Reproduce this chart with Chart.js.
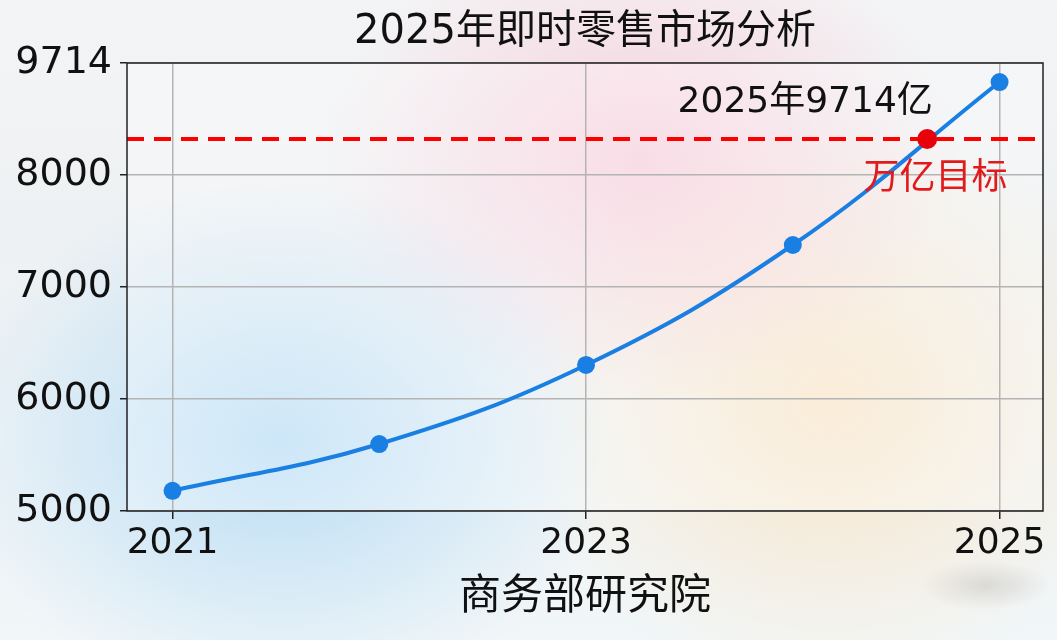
<!DOCTYPE html>
<html>
<head>
<meta charset="utf-8">
<script src="https://cdn.jsdelivr.net/npm/chart.js@4.4.1/dist/chart.umd.min.js"></script>
<style>
  html, body { margin: 0; padding: 0; }
  body {
    width: 1057px; height: 640px; overflow: hidden;
    background:
      radial-gradient(ellipse 340px 260px at 280px 440px, rgba(170,215,245,0.8), rgba(170,215,245,0) 100%),
      radial-gradient(ellipse 320px 240px at 640px 160px, rgba(250,195,212,0.75), rgba(250,195,212,0) 100%),
      radial-gradient(ellipse 320px 290px at 830px 400px, rgba(252,225,185,0.75), rgba(252,225,185,0) 100%),
      radial-gradient(ellipse 65px 25px at 985px 585px, rgba(150,150,150,0.3), rgba(150,150,150,0) 100%),
      linear-gradient(180deg, #f3f4f5 0%, #eef1f3 35%, #f1f6f8 100%);
  }
  #wrap { position: absolute; left: 0; top: 0; width: 1057px; height: 640px; }
</style>
</head>
<body>
<div id="wrap"><canvas id="c" width="1057" height="640"></canvas></div>
<script>
const years = [2021, 2022, 2023, 2024, 2025];
const marketSize = [5180, 5598, 6304, 7375, 8830];
const xTicks = [2021, 2023, 2025];
const yTicks = [5000, 6000, 7000, 8000, 9000];
const yTickLabels = ['5000', '6000', '7000', '8000', '9714'];
const targetLine = 8321;
const targetPoint = { x: 2024.65, y: 8321 };
const chartTitle = '2025年即时零售市场分析';
const notes = [
  { text: '2025年9714亿', x: 2024.06, y: 8643, color: '#111' },
  { text: '万亿目标', x: 2024.69, y: 7955, color: '#e31a1c' }
];

const FONT = "'DejaVu Sans', 'Noto Sans CJK SC', sans-serif";

const areaFill = {
  id: 'areaFill',
  beforeDraw(chart) {
    const { ctx, chartArea: a } = chart;
    ctx.save();
    ctx.fillStyle = 'rgba(255,255,255,0.3)';
    ctx.fillRect(a.left, a.top, a.right - a.left, a.bottom - a.top);
    ctx.restore();
  }
};

const extras = {
  id: 'extras',
  afterDatasetsDraw(chart) {
    const { ctx, chartArea: a, scales: { x, y } } = chart;
    ctx.save();
    // border box
    ctx.strokeStyle = '#222';
    ctx.lineWidth = 1.5;
    ctx.strokeRect(a.left, a.top, a.right - a.left, a.bottom - a.top);
    // title, centred over the plot area
    ctx.textAlign = 'center';
    ctx.textBaseline = 'middle';
    ctx.fillStyle = '#111';
    ctx.font = '40px ' + FONT;
    ctx.fillText(chartTitle, (a.left + a.right) / 2, 33);
    // notes
    ctx.font = '36px ' + FONT;
    notes.forEach(n => {
      ctx.fillStyle = n.color;
      ctx.fillText(n.text, x.getPixelForValue(n.x), y.getPixelForValue(n.y));
    });
    ctx.restore();
  }
};

new Chart(document.getElementById('c'), {
  type: 'line',
  data: {
    datasets: [
      {
        label: 'target',
        data: [{ x: 2020.78, y: targetLine }, { x: 2025.21, y: targetLine }],
        borderColor: '#f00',
        borderWidth: 4,
        borderDash: [17, 10],
        pointRadius: 0,
        tension: 0,
        order: 3
      },
      {
        label: '即时零售市场规模',
        data: years.map((yr, i) => ({ x: yr, y: marketSize[i] })),
        borderColor: '#1a7fe3',
        backgroundColor: '#1a7fe3',
        borderWidth: 4,
        pointRadius: 9,
        pointBorderWidth: 0,
        tension: 0.4,
        order: 2
      },
      {
        label: 'targetPoint',
        data: [targetPoint],
        borderColor: '#e8000b',
        backgroundColor: '#e8000b',
        pointRadius: 10,
        pointBorderWidth: 0,
        showLine: false,
        order: 1
      }
    ]
  },
  options: {
    responsive: false,
    animation: false,
    devicePixelRatio: 1,
    layout: { padding: { left: 0, right: 14, top: 63, bottom: 0 } },
    plugins: {
      legend: { display: false },
      tooltip: { enabled: false },
      title: { display: false }
    },
    scales: {
      x: {
        type: 'linear',
        min: 2020.78,
        max: 2025.21,
        afterBuildTicks: s => { s.ticks = xTicks.map(v => ({ value: v })); },
        afterFit: s => { s.height = 129; },
        ticks: {
          color: '#111',
          font: { family: FONT, size: 36 },
          padding: 3,
          maxRotation: 0,
          callback: v => String(v)
        },
        grid: { color: '#b4b4b4', lineWidth: 1.5, tickLength: 8, tickColor: '#222' },
        border: { display: false },
        title: {
          display: true,
          text: '商务部研究院',
          color: '#111',
          font: { family: FONT, size: 42, lineHeight: 1.2 },
          padding: { top: 0, bottom: 17 }
        }
      },
      y: {
        min: 5000,
        max: 9000,
        afterBuildTicks: s => { s.ticks = yTicks.map(v => ({ value: v })); },
        afterFit: s => { s.width = 127; },
        ticks: {
          color: '#111',
          font: { family: FONT, size: 38 },
          padding: 8,
          callback: (v) => yTickLabels[yTicks.indexOf(v)]
        },
        grid: { color: '#b4b4b4', lineWidth: 1.5, tickLength: 7, tickColor: '#222' },
        border: { display: false }
      }
    }
  },
  plugins: [areaFill, extras]
});
</script>
</body>
</html>
